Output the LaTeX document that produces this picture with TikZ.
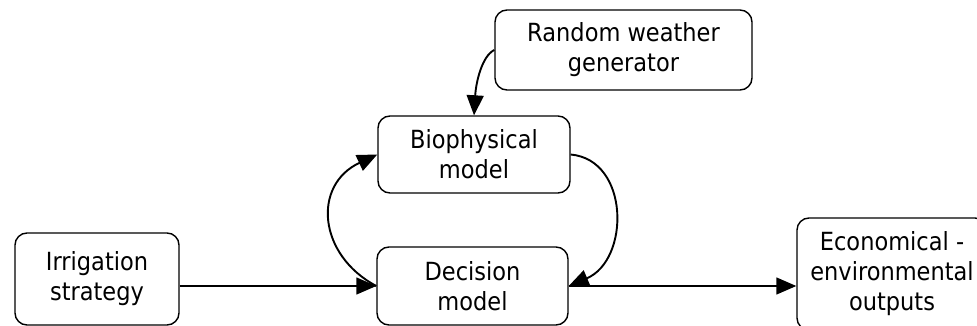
\documentclass[tikz,border=0pt]{standalone}
\usepackage{fontspec}
\setmainfont{DejaVu Sans}[FakeStretch=0.9]
\usetikzlibrary{arrows.meta}
\begin{document}
\begin{tikzpicture}[x=1pt,y=-1pt,
  box/.style={draw, line width=1.4pt, rounded corners=12pt, align=center,
    inner sep=0pt, font=\fontsize{25}{30}\selectfont},
  link/.style={line width=1.4pt, -{Triangle[length=20pt,width=17pt]}},
  curved/.style={link, line width=1.9pt}]
\useasboundingbox (0,0) rectangle (977,326);
\clip (0,0) rectangle (977,326);

% model components
\node[box, minimum width=257pt, minimum height=80pt] (weather) at (623.5,50) {Random weather\\generator};
\node[box, minimum width=192pt, minimum height=77pt] (bio) at (474,154.5) {Biophysical\\model};
\node[box, minimum width=191pt, minimum height=78pt] (dec) at (472.5,286) {Decision\\model};
\node[box, minimum width=164pt, minimum height=92pt] (irr) at (97,279) {Irrigation\\strategy};
\node[box, minimum width=190pt, minimum height=112pt] (eco) at (892,274) {Economical -\\environmental\\outputs};

% straight flows
\draw[link] (irr.east |- dec.west) -- (dec.west);
\draw[link] (dec.east) -- (dec.east -| eco.west);

% feedback loop and weather input
\draw[curved] (weather.west) .. controls (482,56) and (476,82) .. (bio.north);
\draw[curved] (dec.west) .. controls (318,255) and (312,185) .. (bio.west);
\draw[curved] (bio.east) .. controls (630,160) and (630,260) .. (dec.east);
\end{tikzpicture}
\end{document}
